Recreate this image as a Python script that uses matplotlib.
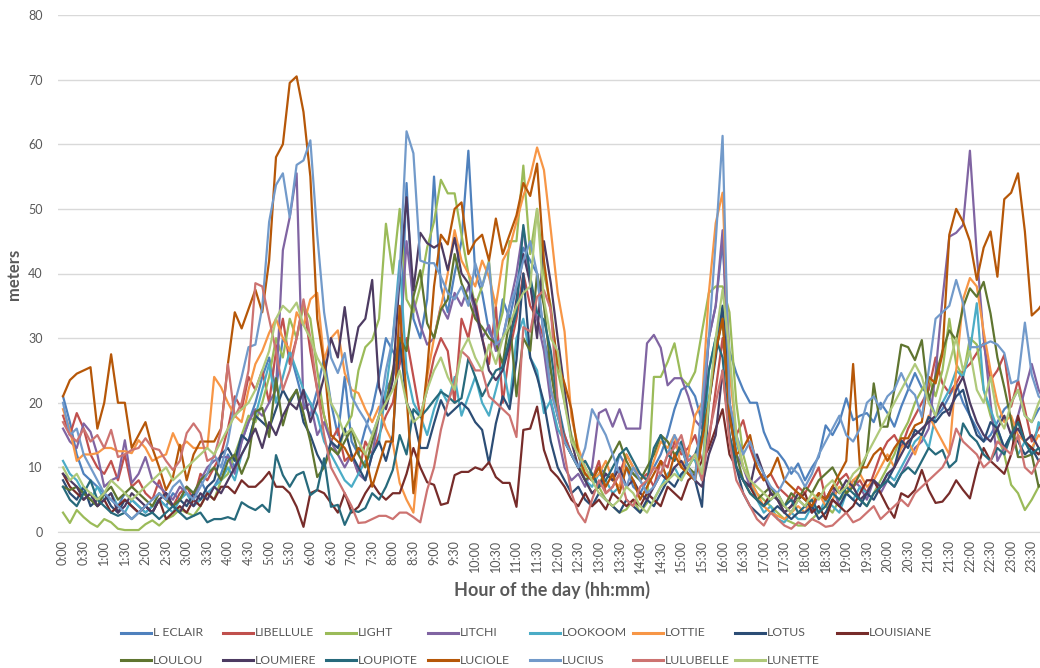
import matplotlib
matplotlib.use("Agg")
import matplotlib.pyplot as plt
from matplotlib.lines import Line2D

# 10-minute slots over the day, 0:00 .. 23:50
times = ["%d:%02d" % (h, m) for h in range(24) for m in (0, 10, 20, 30, 40, 50)]

l_eclair = [
    21, 17, 12, 9, 8, 7, 6, 5, 4, 6, 5, 4,
    3, 4, 5, 4, 6, 5, 7, 6, 8, 6, 7, 9,
    12, 10, 14, 17, 20, 24, 27, 22, 30, 28, 24, 20,
    18, 22, 27, 20, 15, 24, 14, 12, 16, 19, 24, 30,
    28, 26, 54, 33, 30, 36, 55, 38, 34, 40, 45, 59,
    40, 37, 31, 29, 36, 33, 38, 44, 42, 40, 30, 25,
    20, 15, 12, 10, 9, 8, 10, 9, 8, 12, 10, 7,
    6, 8, 10, 12, 15, 19, 22, 22.7, 21, 17, 30, 35,
    45, 28, 24.6, 22, 20, 20, 15.5, 13, 12.4, 11, 9, 10.6,
    8, 10, 11.6, 16.5, 15, 17, 20.7, 17.3, 18, 18.4, 17, 20,
    18.4, 16.3, 19.4, 22, 24.6, 22.3, 21.2, 17.8, 19, 21, 23, 20,
    18, 16, 14, 15, 17, 19, 20, 22, 18, 17, 19, 20]

libellule = [
    18, 15, 18.4, 16, 12, 10, 9, 11, 8, 12, 7, 8,
    6, 5, 8, 5, 4, 6, 7, 5, 9, 8, 10, 12,
    16, 21, 19, 24, 22, 25, 20, 28, 33, 26, 30, 35.5,
    28, 22, 18, 14, 16, 11, 12, 9, 14, 12, 15, 18,
    20, 26, 30, 24, 18, 22, 27, 30, 28, 20, 33, 30,
    36, 30, 26, 35, 20, 28, 33, 40, 35, 33, 30, 22,
    18, 15, 12, 10, 9, 8, 11, 6, 7, 9, 12, 10,
    8, 9, 7, 11, 10, 14, 12, 13, 15, 11, 14, 22,
    30, 20, 15, 17.3, 13, 10, 8, 9, 7, 6, 5, 7,
    6, 8, 10, 5, 6, 8, 9, 7, 8, 6, 9, 12,
    14, 15, 13, 16, 18, 20, 22, 27, 23, 21.5, 23, 25,
    26, 27.7, 29.2, 23.5, 25, 27.4, 19.4, 23.5, 19, 14, 16, 18]

light = [
    3, 1.4, 3.4, 2.3, 1.4, 0.8, 2, 1.5, 0.5, 0.3, 0.3, 0.3,
    1.2, 1.8, 1, 2, 2.5, 3.5, 3, 2.5, 4, 6, 5, 8,
    9, 12, 15, 18, 17, 20, 24, 30, 27, 33, 30, 35,
    33, 25, 18, 14, 12, 16, 18, 25, 28.6, 29.7, 33, 47.7,
    40, 50, 36, 34, 38, 44, 48, 54.5, 52.4, 52.4, 46, 40,
    35, 38, 42, 30, 34, 45, 45, 56.7, 43, 50, 40, 35,
    25, 20, 15, 12, 8, 6, 7, 5, 4, 3, 3.5, 5,
    3, 4.5, 24, 24, 26.3, 29.2, 23.8, 22.7, 24.8, 31, 37, 38,
    38, 34, 20, 12, 8, 6, 5, 4, 3, 2, 1.5, 1,
    1, 2, 3, 4, 3, 5, 6, 7, 5, 4, 6, 8,
    10, 12, 15, 17, 20, 22, 24, 21, 25, 33, 26, 24,
    30, 29, 22, 18, 15, 12, 7.3, 6, 3.4, 5, 7, 8]

litchi = [
    16, 14, 13, 16.8, 15.5, 12, 7, 8, 8.5, 14.2, 7.6, 9,
    11.6, 8, 7, 6, 5, 7, 6, 5, 8, 10, 11, 11.6,
    11.6, 9, 14, 17, 19, 18, 20, 22, 43.6, 48.7, 55.5, 19,
    20, 15, 17, 14, 12, 10, 12, 9, 8, 12, 18, 22,
    24, 28, 45, 36, 32, 29, 30, 35, 33, 37, 35, 38,
    34, 30, 32, 28, 30, 35, 40, 47, 38, 33, 28, 20,
    15, 10, 8, 9, 7, 10, 18.4, 19, 16.3, 19, 16, 16,
    16, 29.2, 30.5, 28.5, 22.7, 23.8, 23.8, 21, 17.3, 16, 30, 35,
    46.7, 20, 12, 10, 7, 8, 9, 6, 5, 4, 3, 5,
    4, 3, 6, 5, 7, 4, 6, 8, 7, 5, 8, 6,
    8, 7, 9, 11, 13, 14, 16, 24.6, 36, 45.7, 46.3, 47.5,
    59, 43, 30, 20, 11, 13, 15, 18, 22, 26, 22, 20]

lookoom = [
    11, 9, 8, 6, 5, 7, 5, 6, 4, 3, 5, 4,
    3, 4, 5, 4, 3, 5, 6, 4, 5, 6, 7, 8,
    10, 8, 12, 14, 18, 22, 26, 20, 24, 28, 25, 22,
    20, 18, 14, 12, 10, 8, 7, 9, 11, 12, 14, 22,
    30, 42, 25, 20, 18, 15, 19, 22, 20, 24, 18, 21,
    24, 20, 18, 22, 26, 20, 30, 33, 27, 25, 18.4, 20.4,
    16, 14, 12, 10, 8, 7, 9, 8, 6, 7, 10, 9,
    8, 6, 5, 7, 9, 10, 8, 12, 11, 8, 25, 30,
    35, 20, 14, 10, 8, 5, 3, 4, 2, 1.5, 3, 2,
    2, 4, 3, 5, 4, 3, 6, 5, 7, 6, 8, 7,
    9, 8, 10, 12, 14, 15, 13, 18, 20, 22, 25, 24,
    28, 35.4, 22, 19, 16, 13, 15, 12, 14, 12, 17, 15]

lottie = [
    19, 15.8, 11, 12, 12, 12.2, 13, 13, 12.5, 12.5, 12.2, 14.2,
    13, 11, 11.6, 12, 15.3, 13, 14, 13, 13, 13, 24, 22.4,
    20, 18, 17, 22, 26, 28, 30.8, 33, 30, 28, 34, 32,
    36, 37, 26.6, 30, 31.2, 24.6, 22, 21.5, 19, 17, 19.4, 16,
    13.8, 7.6, 5, 3, 14.2, 24, 30, 34.8, 40, 46.7, 42, 40,
    38, 42, 39.5, 35, 42, 44, 48, 52, 55, 59.5, 56, 46.7,
    37, 31, 17.8, 13, 10, 8, 9, 11, 8, 7, 12, 10,
    9, 8, 11, 14, 13, 15, 10, 12, 18, 20, 37, 47.8,
    52.5, 25, 15, 10, 8, 6, 4, 3, 2.5, 2, 3, 4,
    3, 5, 6, 4, 5, 7, 6, 8, 9, 7, 8, 10,
    12, 10, 13, 14, 12, 15, 18, 16, 14, 12, 25, 36,
    39.3, 38, 31, 25, 20, 17, 18, 15, 14, 13, 15, 14]

lotus = [
    8, 6, 5, 7, 4, 5, 6, 4, 3, 5, 4, 3,
    4, 3, 5, 6, 4, 5, 4, 6, 5, 7, 8, 12,
    13, 11, 15, 14, 18, 17, 16, 19, 22, 20, 22, 17,
    15, 12, 10, 14, 13, 16, 12, 10, 8, 12, 14, 11,
    15, 30, 20, 17.8, 13, 13, 16.8, 20.4, 18, 19, 20, 19,
    17, 15.8, 10.6, 16.8, 21, 19, 26.6, 40, 27, 24, 20, 14,
    10, 8, 6, 7, 5, 4, 6, 5, 4, 3, 5, 4,
    3, 5, 4, 6, 8, 7, 9, 10, 8, 3.9, 20, 27,
    35, 20, 10, 6, 4, 3, 2, 3, 4, 3, 2, 3,
    3, 4, 2, 3, 5, 4, 6, 5, 4, 6, 5, 7,
    8, 10, 14.2, 13, 15.8, 15, 17.8, 17, 18.4, 19, 21, 22,
    18, 15, 14, 17, 16, 13, 15, 14, 12, 13, 11, 12]

louisiane = [
    9, 7, 6, 5, 6, 4, 5, 3, 4, 5, 4, 3,
    4, 3, 5, 2, 3, 4, 3, 5, 4, 6, 5, 7,
    7, 6, 8, 7, 7, 8, 9.3, 7, 7, 6, 3.9, 0.8,
    6, 6.5, 6, 4.5, 3, 6, 3, 3.9, 6, 7.6, 6, 5,
    6, 6, 9, 13, 10, 7.7, 7.3, 4.2, 4.5, 8.8, 9.3, 9.3,
    10, 9.6, 10.8, 8.5, 7.6, 7.6, 3.9, 15.8, 16, 19.4, 12.7, 9.6,
    8.5, 7, 5, 4, 6, 4, 5, 3.5, 6, 5, 4, 5,
    4, 6, 5, 4, 7, 6, 5, 8, 9, 11, 13, 16,
    19, 12, 10, 8, 7, 5, 4, 6, 5, 3, 4, 5,
    6, 3, 4, 2, 5, 4, 3, 4, 6, 8, 8, 6,
    3.9, 2.2, 6, 5.4, 6.5, 9.6, 6.5, 4.5, 4.7, 6, 8, 6.5,
    5.2, 9.6, 13, 11, 10, 9, 12, 18, 14, 13, 12, 14]

loulou = [
    7, 6.5, 7, 6, 5, 4, 6, 7, 5, 6, 7, 6,
    5, 4, 6, 5, 4, 5, 7, 6, 8, 9, 10, 8,
    11, 12, 9, 11.6, 18.6, 19.2, 14.7, 23.8, 16.5, 20.4, 22, 18.4,
    14, 8.5, 10, 13, 12, 14, 16, 12, 10, 14, 18, 20,
    25, 30, 28, 36.4, 40.5, 32.3, 30, 34.4, 36, 43, 38.5, 36,
    33, 31.7, 30, 29.2, 26, 33, 21, 30, 28, 40, 35, 25,
    18, 14, 12, 10, 8, 9, 7, 10, 12, 14, 11, 9,
    8, 10, 12, 15, 14, 12, 13, 10, 9, 15, 20, 28,
    33, 18, 12, 8, 6, 5, 6, 7, 5, 4, 6, 5,
    7, 6, 8, 9, 10, 8, 6, 7, 9, 12, 23, 16.3,
    16.3, 22, 29, 28.6, 26.6, 29.7, 20.4, 24, 28, 31.2, 29.7, 34.8,
    37.7, 36.4, 38.7, 33.8, 27, 22.4, 17.3, 11.6, 11.6, 12, 7, 8]

loumiere = [
    9, 8, 7, 5, 6, 4, 5, 6, 3, 4, 6, 5,
    4, 3, 5, 6, 4, 3, 5, 4, 6, 5, 7, 6,
    8, 10, 12, 14, 16, 13, 17, 15, 18, 20, 19, 22,
    17, 20, 24, 30, 27, 34.8, 26.3, 31.7, 33, 39, 22.4, 19,
    23.5, 39.5, 51.8, 37.4, 46.3, 44.7, 44, 44.7, 40.5, 45.5, 40, 38.5,
    35, 30, 25, 23.5, 25, 29, 36, 43, 38.5, 30, 45, 38.5,
    30, 22, 14, 10, 8, 6, 7, 9, 8, 10, 7, 8,
    6, 5, 7, 9, 8, 10, 11, 9, 8, 7, 12, 15,
    25, 15, 10, 8, 7, 12, 9, 6, 5, 3, 4, 6,
    5, 4, 6, 5, 7, 6, 8, 7, 5, 6, 8, 7,
    9, 10, 12, 14, 15, 16, 17, 18, 20, 18, 22, 24,
    20, 17, 15, 14, 16, 18, 15, 16, 14, 15, 13, 12]

loupiote = [
    7, 5, 4, 6, 8, 5, 4, 3, 2.5, 3, 2, 3,
    2.5, 3, 2, 3, 4, 3, 2, 2.5, 3, 1.5, 2, 2,
    2.3, 1.9, 4.6, 3.9, 3.4, 4.2, 3.1, 11.9, 8.8, 7, 8.8, 9.3,
    5.7, 6.5, 11.4, 3.9, 4.2, 1.1, 3.4, 3.1, 3.7, 6, 5, 7,
    9.6, 15, 12, 19, 17.8, 19, 20.4, 21.7, 21, 20, 20.7, 26.9,
    24, 21, 23, 25, 25.5, 30, 34, 47.5, 39.5, 34, 32.8, 28,
    20, 14, 12, 10, 11, 9, 7, 8, 10, 12, 13, 11,
    9, 8, 13, 15, 12, 11, 14, 10, 12, 15, 25, 30,
    27, 15, 10, 8, 6, 5, 4, 5, 6, 4, 5, 3,
    4, 5, 3, 4, 6, 5, 7, 6, 5, 4, 6, 7,
    8, 7, 9, 10, 9, 11, 13, 12, 12.7, 10, 11, 16.8,
    15, 14, 12, 11, 13, 12, 15, 17, 14, 12, 13, 11]

luciole = [
    21, 23.5, 24.5, 25, 25.5, 16, 20, 27.5, 20, 20, 13, 15,
    17, 13, 10, 6.5, 8.5, 13.5, 8, 12, 14, 14, 14, 16,
    26, 34, 31.5, 34.5, 37.5, 34, 42, 58, 60, 69.5, 70.5, 65,
    55, 33, 26, 15, 14, 13, 11, 13, 12, 7, 10.5, 14,
    14, 35, 21, 6, 15, 25, 38, 46, 44.5, 50, 51, 43,
    45, 46, 42, 48.5, 43, 46, 49, 54, 52, 57, 42, 34,
    26, 23, 19, 12, 9, 8, 10, 7, 9, 6, 10, 8,
    5, 7, 9, 11, 8, 12, 10, 9, 8, 14, 20, 28,
    33, 18, 12, 13, 15, 10, 8, 9, 11.5, 8, 7, 6,
    5, 4, 6, 5, 7, 9, 11, 26, 10, 10, 12, 13,
    11, 13, 14.5, 14.5, 16.5, 17, 24, 23, 27.5, 46, 50, 48,
    45, 39, 44, 46.5, 39.5, 51.5, 52.5, 55.5, 46.5, 33.5, 34.5, 36]

lucius = [
    20, 15, 16, 12, 10, 8, 6, 5, 4, 3, 2, 3,
    4, 5, 6, 5, 7, 8, 6, 5, 7, 9, 12, 10,
    14, 20, 24, 28.6, 29, 34.8, 48, 53.7, 55.5, 48.7, 56.8, 57.5,
    60.6, 46, 34, 27, 24.6, 27.7, 21, 19, 17.3, 15, 18, 25,
    30, 40, 62, 58.6, 42, 41.6, 41.6, 39.5, 37, 36, 38, 35,
    41.6, 38, 41.6, 29, 30, 35, 38, 42, 45, 40, 30, 22,
    18, 14, 12, 10, 13, 19, 17, 15, 12, 9, 7, 10,
    8, 6, 7, 9, 12, 15, 13, 10, 8, 20, 30, 45,
    61.3, 20, 15, 12, 14, 11, 9, 7, 6, 8, 10, 9,
    7, 9, 12, 14, 16, 18, 15, 14, 16, 20, 21, 19,
    21, 22, 24.6, 22.3, 21.2, 17.8, 25, 33, 34, 35, 39, 35.4,
    28.6, 28.6, 29, 29.5, 29, 27.7, 23, 23.5, 32.4, 24.3, 21, 20]

lulubelle = [
    17, 15, 14, 16, 14, 15, 13, 15.8, 11.6, 12, 12.7, 13,
    14.5, 13, 12.7, 11, 9.6, 11, 15.3, 16.8, 15.3, 11, 11.6, 15.8,
    26, 17.8, 20, 25, 38.5, 38, 33, 28, 22, 25, 30, 36,
    30, 22, 15, 10, 8, 6, 4, 1.4, 1.5, 2, 2.5, 2.5,
    2, 3, 3, 2.3, 1.5, 6.5, 10, 15.8, 20, 23, 28, 27,
    25, 25, 21, 20, 19, 18, 14.7, 31.7, 31, 36.4, 37.4, 34.4,
    20, 12, 6, 3, 1.5, 5, 8, 6, 7, 9, 5, 4,
    7, 8, 10, 9, 12, 13, 15, 11, 12, 8, 15, 20,
    25, 14, 8, 6, 4, 2, 1, 3, 2, 1, 0.5, 1.5,
    1, 2, 1.5, 0.8, 1, 2, 3, 1.5, 2, 3, 4, 2,
    3, 4, 5, 4, 6, 7, 8, 9, 10, 12, 16, 14,
    13, 12, 10, 11, 14, 13, 12, 15, 10, 9, 11, 12]

lunette = [
    10, 8, 9, 7, 6, 5, 6, 8, 7, 6, 5, 6,
    7, 8, 9, 10, 8, 9, 10, 11, 12, 13, 12, 14,
    16, 18, 19, 20, 22, 25, 28, 33, 35, 34, 35.5, 32,
    30, 27, 25, 20, 18, 15, 16, 14, 12, 15, 18, 20,
    22, 25, 20, 17, 18, 22, 25, 27, 24, 22, 28, 30,
    27, 25, 29, 26, 30, 32, 35, 37, 38, 50, 36, 30,
    28, 20, 14, 12, 10, 8, 6, 5, 4, 5, 7, 6,
    4, 3, 5, 7, 8, 9, 8, 10, 12, 9, 20, 30,
    37.5, 28, 15, 10, 8, 7, 6, 5, 6, 4, 3, 5,
    4, 6, 5, 7, 8, 6, 7, 9, 10, 12, 14, 16,
    18, 20, 22, 24, 26, 24, 20, 18, 22, 26, 30, 25,
    28, 22, 20, 24, 18, 16, 20, 22, 18, 17, 20, 22]

names = ["L ECLAIR", "LIBELLULE", "LIGHT", "LITCHI", "LOOKOOM", "LOTTIE",
         "LOTUS", "LOUISIANE", "LOULOU", "LOUMIERE", "LOUPIOTE", "LUCIOLE",
         "LUCIUS", "LULUBELLE", "LUNETTE"]
values = [l_eclair, libellule, light, litchi, lookoom, lottie, lotus,
          louisiane, loulou, loumiere, loupiote, luciole, lucius,
          lulubelle, lunette]
colors = ["#4F81BD", "#C0504D", "#9BBB59", "#8064A2", "#4BACC6", "#F79646",
          "#2C4D75", "#772C2A", "#5F7530", "#4D3B62", "#276A7C", "#B65708",
          "#729ACA", "#CD7371", "#AFC97A"]

W, H = 1040, 668
text_col = "#595959"
plt.rcParams["font.family"] = ["Lato", "DejaVu Sans"]

fig = plt.figure(figsize=(W / 100, H / 100), dpi=100)
ax = fig.add_axes([58 / W, 136 / H, 982 / W, 517 / H])

x = list(range(len(times)))
for vals, col in zip(values, colors):
    ax.plot(x, vals, color=col, lw=1.6, solid_joinstyle="round")

ax.set_ylim(0, 80)
ax.set_yticks(range(0, 81, 10))
ax.set_xlim(-0.73, 142.2)
ax.set_xticks(x[::3])
ax.set_xticklabels(times[::3], rotation=90)
ax.grid(axis="y", color="#D9D9D9", lw=1)
ax.set_axisbelow(True)
for side in ("top", "right", "left"):
    ax.spines[side].set_visible(False)
ax.spines["bottom"].set_color("#D9D9D9")
ax.tick_params(length=0, colors=text_col, labelsize=9)
ax.tick_params(axis="y", pad=11)
ax.tick_params(axis="x", pad=6)

fig.text(14 / W, 1 - 274 / H, "meters", rotation=90, ha="center", va="center",
         fontsize=12, fontweight="bold", color=text_col)
fig.text(552 / W, 1 - 590 / H, "Hour of the day (hh:mm)", ha="center",
         va="center", fontsize=13, fontweight="bold", color=text_col)

# legend laid out on an even grid, 8 entries per row
for k, (name, col) in enumerate(zip(names, colors)):
    row, c = divmod(k, 8)
    x0 = 121 + 102.3 * c
    y0 = 1 - (633 + 27 * row) / H
    fig.add_artist(Line2D([x0 / W, (x0 + 30) / W], [y0, y0],
                          transform=fig.transFigure, color=col, lw=2.2))
    fig.text((x0 + 32) / W, y0, name, ha="left", va="center", fontsize=8.8,
             color=text_col, family=["Lato", "DejaVu Sans"])

fig.savefig("out.png", dpi=100)
